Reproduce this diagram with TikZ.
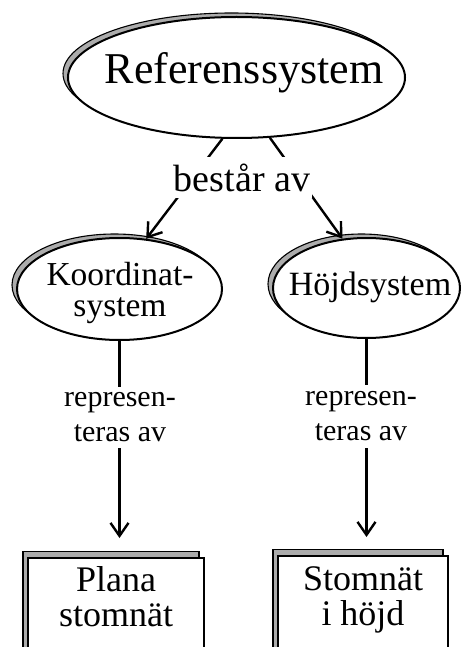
\documentclass[tikz,border=0pt]{standalone}
\usepackage{fontspec}
\setmainfont{Liberation Serif}
\usetikzlibrary{shapes.geometric,shadows,arrows.meta}
\begin{document}
\begin{tikzpicture}[x=1pt,y=-1pt,
  shade/.style={fill=gray!65, draw=black, line width=1.1pt},
  ell/.style={ellipse, draw, line width=2pt, fill=white, inner sep=0pt,
    copy shadow={shadow xshift=-5pt, shadow yshift=4pt, shade}},
  boxnode/.style={rectangle, draw, line width=1.6pt, fill=white, align=center,
    inner xsep=0pt, text depth=80pt, anchor=north, font=\fontsize{36}{35}\selectfont,
    copy shadow={shadow xshift=-5pt, shadow yshift=6pt, shade}},
  lbl/.style={fill=white, align=center, inner xsep=2pt, inner ysep=0pt},
  conn/.style={line width=2.4pt, -{Straight Barb[length=13pt,width=18pt]}},
]
\useasboundingbox (0,0) rectangle (462,647);
\clip (0,0) rectangle (462,647);

% ellipses
\node[ell, minimum width=337pt, minimum height=121pt] (ref) at (236.5,77.5) {};
\node[font=\fontsize{44}{44}\selectfont] (reft) at (244,73) {Referenssystem};

\node[ell, minimum width=205pt, minimum height=102pt] (koord) at (119.5,289) {};
\node[font=\fontsize{33.5}{31}\selectfont, align=center] (koordt) at (120,293) {Koordinat-\\system};

\node[ell, minimum width=187pt, minimum height=100pt] (hojd) at (366.5,288) {};
\node[font=\fontsize{34}{29}\selectfont] (hojdt) at (370,287) {Höjdsystem};

% boxes
\node[boxnode, minimum width=176pt, inner ysep=9pt] (plana) at (116,557) {Plana\\stomnät};
\node[boxnode, minimum width=170pt, inner ysep=11pt] (stomh) at (363,555) {Stomnät\\i höjd};

% connectors
\draw[conn] (ref.257) -- (koord.62);
\draw[conn] (ref.299) -- (hojd.116);
\draw[conn, shorten >=19pt] (koord.south) -- (koord.south |- plana.north);
\draw[conn, shorten >=18pt] (hojd.south) -- (hojd.south |- stomh.north);

% labels
\node[lbl, minimum height=41pt, font=\fontsize{38}{40}\selectfont] (bestar) at (242,177.5) {består av};
\node[lbl, minimum height=61pt, font=\fontsize{30}{35}\selectfont] (rep1) at (120,417.5) {represen-\\teras av};
\node[lbl, minimum height=63pt, font=\fontsize{30}{35}\selectfont] (rep2) at (361,416.5) {represen-\\teras av};
\end{tikzpicture}
\end{document}
